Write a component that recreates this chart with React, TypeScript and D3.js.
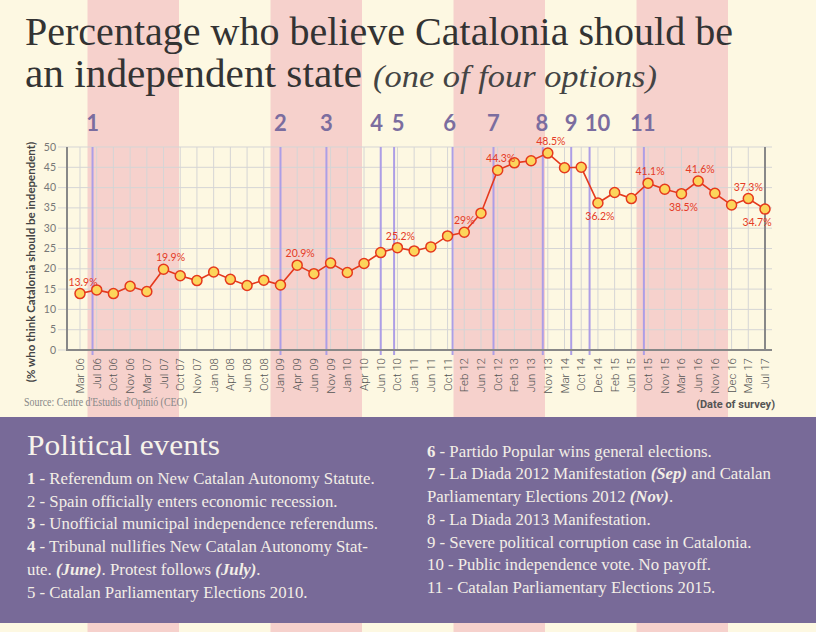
import React from "react";
import * as d3 from "d3";

const categories = [
  "Mar 06", "Jul 06", "Oct 06", "Nov 06", "Mar 07", "Jul 07", "Oct 07", "Nov 07",
  "Jan 08", "Apr 08", "Jun 08", "Oct 08", "Jan 09", "Apr 09", "Jun 09", "Nov 09",
  "Jan 10", "Apr 10", "Jun 10", "Oct 10", "Jan 11", "Jun 11", "Oct 11", "Feb 12",
  "Jun 12", "Oct 12", "Feb 13", "Jun 13", "Nov 13", "Mar 14", "Oct 14", "Dec 14",
  "Feb 15", "Jun 15", "Oct 15", "Nov 15", "Mar 16", "Jun 16", "Nov 16", "Dec 16",
  "Mar 17", "Jul 17",
];

const values = [
  13.9, 14.8, 13.9, 15.7, 14.4, 19.9, 18.3, 17.1, 19.2, 17.4, 15.9, 17.2, 16.0, 20.9,
  18.8, 21.4, 19.1, 21.3, 24.0, 25.2, 24.4, 25.4, 28.1, 29.0, 33.7, 44.3, 46.1, 46.6,
  48.5, 44.9, 45.0, 36.2, 38.8, 37.3, 41.1, 39.6, 38.5, 41.6, 38.6, 35.7, 37.3, 34.7,
];

// labelled points: index, text, placement
const labelIdx = [0, 5, 13, 19, 23, 25, 28, 31, 34, 36, 37, 40, 41];
const labelText = ["13.9%", "19.9%", "20.9%", "25.2%", "29%", "44.3%", "48.5%", "36.2%", "41.1%", "38.5%", "41.6%", "37.3%", "34.7%"];
const labelBelow = [false, false, false, false, false, false, false, true, false, true, false, false, true];
const labelDx = [3, 7, 3, 3, 0, 3, 3, 2, 2, 2, 2, 0, -8];

// political events, position on the survey index scale
const eventNames = ["1", "2", "3", "4", "5", "6", "7", "8", "9", "10", "11"];
const eventPos = [0.75, 12, 14.75, 18, 18.8, 22.3, 24.75, 27.7, 29.4, 30.5, 33.75];
const eventLabelDx = [0, 0, 0, -4, 4, -3, 0, -1, 0, 8, -1];

const yTicks = [0, 5, 10, 15, 20, 25, 30, 35, 40, 45, 50];

type Seg = { t: string; b?: boolean; i?: boolean };
const leftItems: Seg[][] = [
  [{ t: "1", b: true }, { t: " - Referendum on New Catalan Autonomy Statute." }],
  [{ t: "2 - Spain officially enters economic recession." }],
  [{ t: "3", b: true }, { t: " - Unofficial municipal independence referendums." }],
  [{ t: "4", b: true }, { t: " - Tribunal nullifies New Catalan Autonomy Stat-" }],
  [{ t: "ute. " }, { t: "(June)", b: true, i: true }, { t: ". Protest follows " }, { t: "(July)", b: true, i: true }, { t: "." }],
  [{ t: "5 - Catalan Parliamentary Elections 2010." }],
];
const rightItems: Seg[][] = [
  [{ t: "6", b: true }, { t: " - Partido Popular wins general elections." }],
  [{ t: "7", b: true }, { t: " - La Diada 2012 Manifestation " }, { t: "(Sep)", b: true, i: true }, { t: " and Catalan" }],
  [{ t: "Parliamentary Elections 2012 " }, { t: "(Nov)", b: true, i: true }, { t: "." }],
  [{ t: "8 - La Diada 2013 Manifestation." }],
  [{ t: "9 - Severe political corruption case in Catalonia." }],
  [{ t: "10 - Public independence vote. No payoff." }],
  [{ t: "11 - Catalan Parliamentary Elections 2015." }],
];

const W = 816;
const H = 632;
const CREAM = "#fdf8e2";
const PINK = "#f6d1cc";
const PANEL = "#786a98";
const RED = "#e5391d";
const SERIF = "'Liberation Serif', serif";

export default function App() {
  const x = d3.scalePoint<string>().domain(categories).range([80, 765]);
  const xi = d3.scaleLinear().domain([0, categories.length - 1]).range([80, 765]);
  const y = d3.scaleLinear().domain([0, 50]).range([350, 147]);
  const plotTop = y(50);
  const plotBottom = y(0);
  const axisLeft = 67;
  const gridRight = 772;

  const line = d3
    .line<number>()
    .x((_, i) => x(categories[i]) as number)
    .y((d) => y(d));

  const stripes = d3.range(4).map((k) => 87.5 + k * 183);

  const renderSegs = (segs: Seg[]) =>
    segs.map((s, k) => (
      <tspan key={k} fontWeight={s.b ? "bold" : "normal"} fontStyle={s.i ? "italic" : "normal"}>
        {s.t}
      </tspan>
    ));

  return (
    <svg width={W} height={H} style={{ position: "fixed", left: 0, top: 0 }}>
      <rect x={0} y={0} width={W} height={H} fill={CREAM} />
      {stripes.map((sx, k) => (
        <rect key={k} x={sx} y={0} width={91.5} height={H} fill={PINK} />
      ))}

      {/* Title */}
      <text x={25} y={45} fontFamily={SERIF} fontSize={39} fill="#333" textLength={708} lengthAdjust="spacingAndGlyphs">
        Percentage who believe Catalonia should be
      </text>
      <text x={25} y={87} fontFamily={SERIF} fontSize={39} fill="#333" textLength={337} lengthAdjust="spacingAndGlyphs">
        an independent state
      </text>
      <text x={373} y={87} fontFamily={SERIF} fontStyle="italic" fontSize={31} fill="#444" textLength={284} lengthAdjust="spacingAndGlyphs">
        (one of four options)
      </text>

      {/* grid */}
      {yTicks.map((t) => (
        <line key={t} x1={58} x2={gridRight} y1={y(t)} y2={y(t)} stroke="#d5d5d5" strokeWidth={1} />
      ))}
      {categories.map((c) => (
        <line key={c} x1={x(c)} x2={x(c)} y1={plotTop} y2={plotBottom} stroke="#d5d5d5" strokeWidth={1} />
      ))}

      {/* events */}
      {eventPos.map((p, k) => (
        <g key={k}>
          <line x1={xi(p)} x2={xi(p)} y1={plotTop} y2={plotBottom + 5} stroke="#ad9ee6" strokeWidth={2} />
          <text
            x={xi(p) + eventLabelDx[k]}
            y={131}
            textAnchor="middle"
            fontFamily="Lato, sans-serif"
            fontWeight="bold"
            fontSize={22}
            fill="#7b6d9f"
          >
            {eventNames[k]}
          </text>
        </g>
      ))}

      {/* axes */}
      <line x1={axisLeft} x2={axisLeft} y1={plotTop} y2={plotBottom} stroke="#888" strokeWidth={2} />
      <line x1={765} x2={765} y1={plotTop} y2={plotBottom} stroke="#888" strokeWidth={2} />
      <line x1={axisLeft - 1} x2={gridRight} y1={plotBottom} y2={plotBottom} stroke="#888" strokeWidth={2} />

      {yTicks.map((t) => (
        <text key={t} x={56} y={y(t) + 3.5} textAnchor="end" fontFamily="Lato, sans-serif" fontSize={10.5} fill="#777">
          {t}
        </text>
      ))}
      {categories.map((c) => (
        <text
          key={c}
          transform={`translate(${(x(c) as number) + 4},${plotBottom + 8}) rotate(-90)`}
          textAnchor="end"
          fontFamily="Roboto, sans-serif"
          fontWeight={300}
          fontSize={11.5}
          fill="#555"
        >
          {c}
        </text>
      ))}

      <text
        transform={`translate(35,262) rotate(-90)`}
        textAnchor="middle"
        fontFamily="Lato, sans-serif"
        fontWeight="bold"
        fontSize={11.5}
        fill="#444"
      >
        (% who think Catalonia should be independent)
      </text>
      <text x={775} y={408} textAnchor="end" fontFamily="Roboto, sans-serif" fontWeight="bold" fontSize={11} fill="#555">
        (Date of survey)
      </text>
      <text x={24} y={406} fontFamily={SERIF} fontSize={11.5} fill="#888" textLength={163} lengthAdjust="spacingAndGlyphs">
        Source: Centre d'Estudis d'Opinió (CEO)
      </text>

      {/* data */}
      <path d={line(values) || ""} fill="none" stroke={RED} strokeWidth={1.6} />
      {values.map((v, i) => (
        <circle key={i} cx={x(categories[i])} cy={y(v)} r={5} fill="#fcd55b" stroke={RED} strokeWidth={1.5} />
      ))}
      {labelIdx.map((idx, k) => (
        <text
          key={k}
          x={(x(categories[idx]) as number) + labelDx[k]}
          y={labelBelow[k] ? y(values[idx]) + 17 : y(values[idx]) - 8}
          textAnchor="middle"
          fontFamily="Lato, sans-serif"
          fontSize={10.5}
          fill="#e53b26"
        >
          {labelText[k]}
        </text>
      ))}

      {/* panel */}
      <rect x={0} y={417} width={W} height={206} fill={PANEL} />
      <text x={27} y={455} fontFamily={SERIF} fontSize={30} fill="#f6f2ea" textLength={193} lengthAdjust="spacingAndGlyphs">
        Political events
      </text>
      {leftItems.map((segs, k) => (
        <text key={k} x={27} y={484 + k * 22.7} fontFamily={SERIF} fontSize={16.8} fill="#f3eee6">
          {renderSegs(segs)}
        </text>
      ))}
      {rightItems.map((segs, k) => (
        <text key={k} x={427} y={456.7 + k * 22.7} fontFamily={SERIF} fontSize={16.8} fill="#f3eee6">
          {renderSegs(segs)}
        </text>
      ))}
    </svg>
  );
}
